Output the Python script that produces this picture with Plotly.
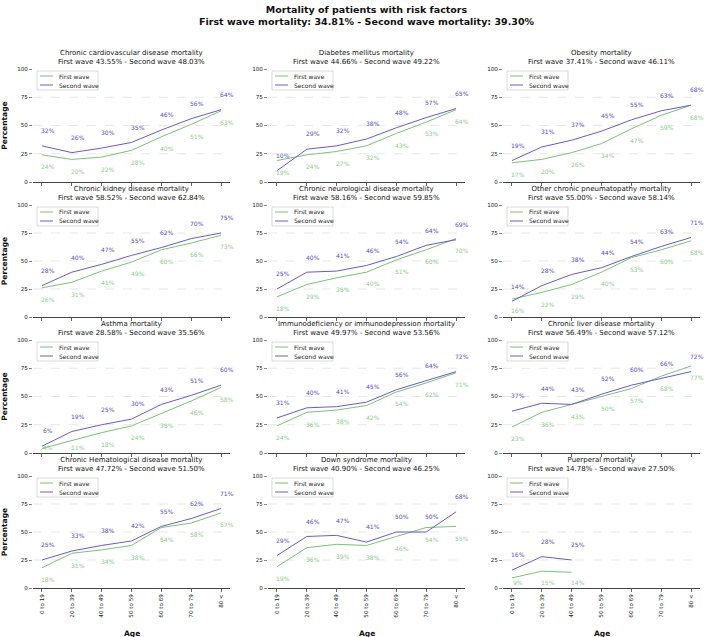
import plotly.graph_objects as go

# ---------------- data ----------------
ages = ["0 to 19", "20 to 39", "40 to 49", "50 to 59", "60 to 69", "70 to 79", "80 <"]

panel_titles = [
    "Chronic cardiovascular disease mortality",
    "Diabetes mellitus mortality",
    "Obesity mortality",
    "Chronic kidney disease mortality",
    "Chronic neurological disease mortality",
    "Other chronic pneumatopathy mortality",
    "Asthma mortality",
    "Immunodeficiency or immunodepression mortality",
    "Chronic liver disease mortality",
    "Chronic Hematological disease mortality",
    "Down syndrome mortality",
    "Puerperal mortality",
]
first_totals = [43.55, 44.66, 37.41, 58.52, 58.16, 55.00, 28.58, 49.97, 56.49, 47.72, 40.90, 14.78]
second_totals = [48.03, 49.22, 46.11, 62.84, 59.85, 58.14, 35.56, 53.56, 57.12, 51.50, 46.25, 27.50]

first_wave = [
    [24, 20, 22, 28, 40, 51, 63],
    [19, 24, 27, 32, 43, 53, 64],
    [17, 20, 26, 34, 47, 59, 68],
    [26, 31, 41, 49, 60, 66, 73],
    [18, 29, 35, 40, 51, 60, 70],
    [16, 22, 29, 40, 53, 60, 68],
    [4, 11, 18, 24, 35, 46, 58],
    [24, 36, 38, 42, 54, 62, 71],
    [23, 36, 43, 50, 57, 68, 77],
    [18, 31, 34, 38, 54, 58, 67],
    [19, 36, 39, 38, 46, 54, 55],
    [9, 15, 14, None, None, None, None],
]
second_wave = [
    [32, 26, 30, 35, 46, 56, 64],
    [10, 29, 32, 38, 48, 57, 65],
    [19, 31, 37, 45, 55, 63, 68],
    [28, 40, 47, 55, 62, 70, 75],
    [25, 40, 41, 46, 54, 64, 69],
    [14, 28, 38, 44, 54, 63, 71],
    [6, 19, 25, 30, 43, 51, 60],
    [31, 40, 41, 45, 56, 64, 72],
    [37, 44, 43, 52, 60, 66, 72],
    [25, 33, 38, 42, 55, 62, 71],
    [29, 46, 47, 41, 50, 50, 68],
    [16, 28, 25, None, None, None, None],
]
series_names = ["First wave", "Second wave"]
overall_first = 34.81
overall_second = 39.30
y_ticks = [0, 25, 50, 75, 100]

# ---------------- style ----------------
FONT = "DejaVu Sans"
GREEN = "#77c477"
GREEN_TXT = "#88cf88"
PURPLE = "#6a5acd"
PURPLE_TXT = "#5a4bc6"
LABEL_UP = 13.5      # second-wave label offset (data units)
LABEL_DOWN = 10.5    # first-wave label offset (data units)
LABEL_FLOOR = 4.5    # labels are kept above this level

W, H = 705, 637
ML, MR, MT, MB = 33, 5, 69, 49
PW, PH = W - ML - MR, H - MT - MB
col_px = [(0, 197), (235, 432), (470, 667)]
row_px = [(0, 113), (136, 248), (271, 384), (407, 519)]

fig = go.Figure()
annotations = []
shapes = []
layout_extra = {}

for k in range(12):
    r, c = divmod(k, 3)
    idx = "" if k == 0 else str(k + 1)
    xa, ya = "x" + idx, "y" + idx
    x0, x1 = col_px[c][0] / PW, col_px[c][1] / PW
    y1, y0 = 1 - row_px[r][0] / PH, 1 - row_px[r][1] / PH

    # dashed horizontal grid (inner ticks only)
    for g in y_ticks[1:-1]:
        shapes.append(dict(type="line", xref=xa + " domain", yref=ya, x0=0, x1=1,
                           y0=g, y1=g, layer="below",
                           line=dict(color="#dddddd", width=0.7, dash="dash")))

    fig.add_trace(go.Scatter(x=ages, y=first_wave[k], mode="lines", name=series_names[0],
                             line=dict(color=GREEN, width=1), xaxis=xa, yaxis=ya,
                             showlegend=False, hoverinfo="skip"))
    fig.add_trace(go.Scatter(x=ages, y=second_wave[k], mode="lines", name=series_names[1],
                             line=dict(color=PURPLE, width=1), xaxis=xa, yaxis=ya,
                             showlegend=False, hoverinfo="skip"))

    # value labels
    for a, v in zip(ages, first_wave[k]):
        if v is None:
            continue
        annotations.append(dict(x=a, y=max(v - LABEL_DOWN, LABEL_FLOOR), xref=xa, yref=ya,
                                text=f"{v:.0f}%", showarrow=False, xshift=6,
                                xanchor="center", yanchor="middle",
                                font=dict(family=FONT, size=6, color=GREEN_TXT)))
    for a, v in zip(ages, second_wave[k]):
        if v is None:
            continue
        annotations.append(dict(x=a, y=v + LABEL_UP, xref=xa, yref=ya,
                                text=f"{v:.0f}%", showarrow=False, xshift=6,
                                xanchor="center", yanchor="middle",
                                font=dict(family=FONT, size=6, color=PURPLE_TXT)))

    # panel title
    annotations.append(dict(
        x=(x0 + x1) / 2, y=y1, xref="paper", yref="paper", xanchor="center",
        yanchor="bottom", yshift=1, showarrow=False,
        text=f"{panel_titles[k]}<br>First wave {first_totals[k]:.2f}% - Second wave {second_totals[k]:.2f}%",
        font=dict(family=FONT, size=7.0, color="#111")))

    # legend (box, line samples, labels) anchored at panel's top-left corner
    shapes.append(dict(type="rect", xref="paper", yref="paper", xsizemode="pixel",
                       ysizemode="pixel", xanchor=x0, yanchor=y1,
                       x0=4, x1=65, y0=-2, y1=-21,
                       line=dict(color="#cccccc", width=0.7), fillcolor="white", layer="above"))
    for i, (nm, col) in enumerate(zip(series_names, (GREEN, PURPLE))):
        yy = -7 - 9 * i
        shapes.append(dict(type="line", xref="paper", yref="paper", xsizemode="pixel",
                           ysizemode="pixel", xanchor=x0, yanchor=y1,
                           x0=7, x1=20, y0=yy, y1=yy,
                           line=dict(color=col, width=1), layer="above"))
        annotations.append(dict(x=x0, y=y1, xref="paper", yref="paper", xanchor="left",
                                yanchor="middle", xshift=24, yshift=yy, showarrow=False,
                                text=nm, font=dict(family=FONT, size=6, color="#222")))

    bottom = r == 3
    left = c == 0
    layout_extra["xaxis" + idx] = dict(
        domain=[x0, x1], anchor=ya, type="category", categoryorder="array",
        categoryarray=ages, range=[-0.3, 6.3], showline=True, linecolor="#444",
        linewidth=1, ticks="outside", ticklen=3, tickcolor="#666", showgrid=False,
        zeroline=False, showticklabels=bottom, tickangle=-90, automargin=False,
        tickfont=dict(family=FONT, size=5.6, color="#222"))
    layout_extra["yaxis" + idx] = dict(
        domain=[y0, y1], anchor=xa, range=[0, 100], tickvals=y_ticks,
        showline=False, ticks="outside", ticklen=3, tickcolor="#888",
        showgrid=False, zeroline=False, automargin=False,
        tickfont=dict(family=FONT, size=5.6, color="#222"),
        title=dict(text="<b>Percentage</b>" if left else "", standoff=8,
                   font=dict(family=FONT, size=7.5, color="#111")))

    if bottom:
        annotations.append(dict(x=(x0 + x1) / 2, y=0, xref="paper", yref="paper",
                                xanchor="center", yanchor="middle", yshift=-45,
                                showarrow=False, text="<b>Age</b>",
                                font=dict(family=FONT, size=7.5, color="#111")))

# main title
annotations.append(dict(
    x=0.5, y=1 + (MT - 2) / PH, xref="paper", yref="paper", xanchor="center", yanchor="top",
    showarrow=False,
    text=f"<b>Mortality of patients with risk factors<br>First wave mortality: {overall_first:.2f}% - Second wave mortality: {overall_second:.2f}%</b>",
    font=dict(family=FONT, size=9.5, color="#111")))

fig.update_layout(
    width=W, height=H,
    margin=dict(l=ML, r=MR, t=MT, b=MB, autoexpand=False),
    paper_bgcolor="white", plot_bgcolor="white",
    font=dict(family=FONT),
    showlegend=False,
    annotations=annotations,
    shapes=shapes,
    **layout_extra,
)

fig.write_html("out.html", config={"displayModeBar": False},
               post_script="document.body.style.margin='0';")
